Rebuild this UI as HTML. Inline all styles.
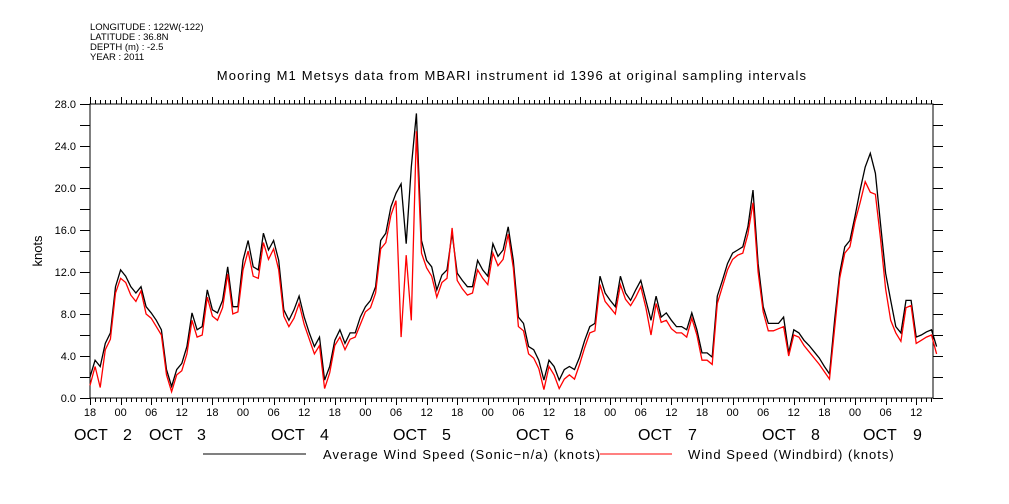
<!DOCTYPE html>
<html><head><meta charset="utf-8"><style>
html,body{margin:0;padding:0;background:#fff;}
svg{display:block;font-family:"Liberation Sans",sans-serif;}
</style></head><body>
<svg id="chart" width="1009" height="504" viewBox="0 0 1009 504">
<g font-size="9.5" fill="#000">
<text x="90" y="30">LONGITUDE : 122W(-122)</text>
<text x="90" y="40">LATITUDE : 36.8N</text>
<text x="90" y="50">DEPTH (m) : -2.5</text>
<text x="90" y="60">YEAR : 2011</text>
</g>
<text x="512" y="80" font-size="13" text-anchor="middle" letter-spacing="1.15">Mooring M1 Metsys data from MBARI instrument id 1396 at original sampling intervals</text>
<text transform="translate(42,251) rotate(-90)" font-size="13" text-anchor="middle">knots</text>
<g id="axes"></g>
<g id="series"></g>
<g>
<line x1="203" y1="454" x2="306" y2="454" stroke="#000" stroke-width="1"/>
<text x="323" y="459" font-size="13" letter-spacing="1.1">Average Wind Speed (Sonic−n/a) (knots)</text>
<line x1="600" y1="454" x2="672" y2="454" stroke="#f00" stroke-width="1"/>
<text x="688" y="459" font-size="13" letter-spacing="1.0">Wind Speed (Windbird) (knots)</text>
</g>
</svg>
<script>
const yTicks = [0,4,8,12,16,20,24,28];
const hourLabels = ["18","00","06","12"];
const dateLabels = [["OCT",74,"2",123],["OCT",149,"3",197],["OCT",271,"4",320],["OCT",393,"5",442],["OCT",516,"6",565],["OCT",638,"7",688],["OCT",762,"8",811],["OCT",863,"9",913]];
const sonic = [2.0,3.6,3.0,5.2,6.2,10.6,12.2,11.6,10.6,10.0,10.6,8.7,8.1,7.4,6.5,2.7,1.1,2.7,3.3,4.9,8.1,6.5,6.8,10.3,8.4,8.1,9.3,12.5,8.7,8.7,13.1,15.0,12.5,12.2,15.7,14.1,15.0,13.1,8.4,7.4,8.4,9.7,7.7,6.2,4.9,5.8,1.7,3.0,5.5,6.5,5.2,6.2,6.2,7.7,8.7,9.3,10.6,15.0,15.7,18.2,19.5,20.4,14.7,22.0,27.1,15.0,13.1,12.5,10.3,11.7,12.2,15.7,11.9,11.2,10.6,10.6,13.1,12.2,11.6,14.7,13.5,14.1,16.3,13.1,7.7,7.1,4.9,4.6,3.6,1.7,3.6,3.0,1.7,2.7,3.0,2.7,3.9,5.5,6.8,7.1,11.6,10.0,9.3,8.7,11.6,10.0,9.3,10.3,11.2,9.3,7.4,9.7,7.7,8.1,7.4,6.8,6.8,6.5,8.1,6.5,4.3,4.3,3.9,9.7,11.2,12.8,13.8,14.1,14.4,16.3,19.8,12.8,8.7,7.1,7.1,7.1,7.7,4.3,6.5,6.2,5.5,5.0,4.4,3.8,3.0,2.3,7.4,11.9,14.4,15.0,17.3,19.8,22.0,23.3,21.4,16.6,11.9,9.3,6.8,6.2,9.3,9.3,5.8,6.0,6.3,6.5,4.9];
const windbird = [1.2,3.0,1.0,4.6,5.6,10.0,11.4,11.0,9.8,9.2,10.2,8.0,7.6,6.8,6.0,2.2,0.6,2.2,2.6,4.2,7.4,5.8,6.0,9.6,7.8,7.4,8.6,11.8,8.0,8.2,12.2,14.0,11.6,11.4,14.8,13.2,14.2,12.2,7.8,6.8,7.6,9.0,7.0,5.6,4.2,5.0,0.9,2.4,5.0,5.8,4.6,5.6,5.8,7.0,8.2,8.6,10.0,14.2,14.8,17.4,18.8,5.8,13.6,7.4,25.4,13.8,12.4,11.6,9.6,11.0,11.4,16.2,11.2,10.4,9.8,10.0,12.2,11.4,10.8,13.8,12.6,13.2,15.6,12.4,6.8,6.4,4.2,3.8,2.8,0.8,3.0,2.2,0.9,1.8,2.2,1.8,3.2,4.8,6.2,6.4,10.8,9.2,8.6,8.0,10.8,9.4,8.8,9.6,10.6,8.6,6.0,9.0,7.2,7.4,6.6,6.2,6.2,5.8,7.6,6.0,3.6,3.6,3.2,9.0,10.6,12.2,13.2,13.6,13.8,15.6,18.6,12.0,8.2,6.4,6.4,6.6,6.8,4.0,6.0,5.8,5.0,4.4,3.8,3.2,2.5,1.8,6.6,11.4,13.8,14.4,16.8,18.6,20.6,19.6,19.4,15.2,10.4,7.4,6.2,5.4,8.6,8.8,5.2,5.5,5.8,6.0,4.2];

const NS='http://www.w3.org/2000/svg';
const X0=90,X1=933,Y0=398,Y1=104,PXH=5.1;
const xs=h=>X0+h*PXH;
const ys=v=>Y0-(v/28)*(Y0-Y1);
function mk(tag,attrs,parent){const e=document.createElementNS(NS,tag);for(const k in attrs)e.setAttribute(k,attrs[k]);parent.appendChild(e);return e;}
const axes=document.getElementById('axes');
const frame=mk('rect',{x:X0,y:Y1,width:X1-X0,height:Y0-Y1,fill:'none',stroke:'#000','stroke-width':1},axes);


for(let v=0;v<=28;v+=2){
  const y=Math.round(ys(v))+0.5;
  const t=mk('line',{x1:X0-10,y1:y,x2:X0,y2:y,stroke:'#000'},axes);
  
  
  const t2=mk('line',{x1:X1,y1:y,x2:X1+10,y2:y,stroke:'#000'},axes);
  
  
}
yTicks.forEach(v=>{
  const t=mk('text',{x:X0-14,y:ys(v)+4,'font-size':11,'text-anchor':'end'},axes);
  t.textContent=v.toFixed(1);
  
  
});
const nh=Math.floor((X1-X0)/PXH);
for(let h=0;h<=nh;h++){
  const x=Math.round(xs(h))+0.5;const major=h%6===0;
  const b=mk('line',{x1:x,y1:Y0,x2:x,y2:Y0+(major?7:4),stroke:'#000'},axes);
  
  
  const t=mk('line',{x1:x,y1:Y1,x2:x,y2:Y1-(major?7:4),stroke:'#000'},axes);
  
  
  if(major){
    const l=mk('text',{x:xs(h),y:416,'font-size':11,'text-anchor':'middle'},axes);
    l.textContent=hourLabels[(h/6)%4];
    
    
  }
}
dateLabels.forEach(d=>{
  const a=mk('text',{x:d[1],y:440,'font-size':16},axes);a.textContent=d[0];
  
  
  const b=mk('text',{x:d[3],y:440,'font-size':16},axes);b.textContent=d[2];
  
  
});
const series=document.getElementById('series');
function line(arr,color,name){
  const pts=arr.map((v,i)=>xs(i).toFixed(1)+','+ys(v).toFixed(1)).join(' ');
  const p=mk('polyline',{points:pts,fill:'none',stroke:color,'stroke-width':1.3},series);
  
  
}
line(sonic,'#000','sonic-series');
line(windbird,'#f00','windbird-series');
</script>
</body></html>
